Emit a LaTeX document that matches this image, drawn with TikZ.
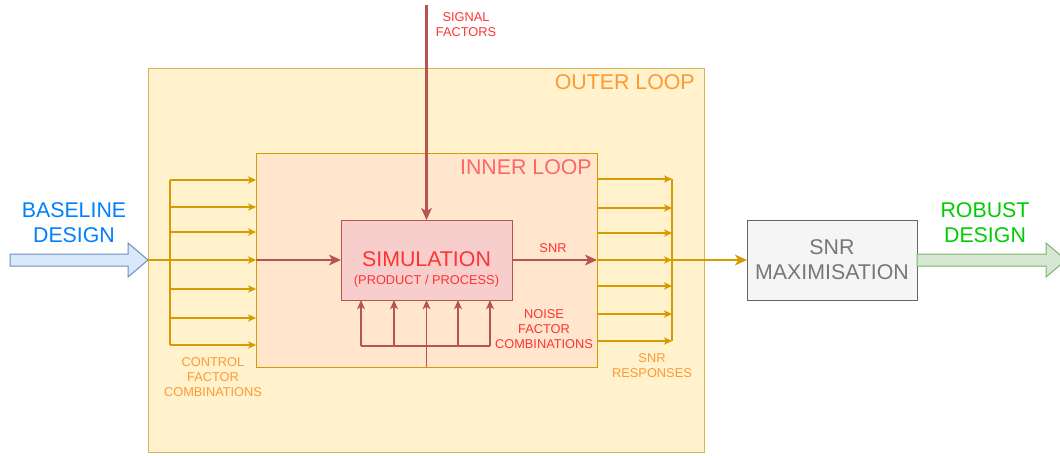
\documentclass[tikz,border=0pt]{standalone}
\usepackage{fontspec}
\setmainfont{Liberation Sans}
\usepackage{xcolor}
\usepackage{tikz}
\usetikzlibrary{positioning}
\usetikzlibrary{arrows.meta}

\definecolor{outerfill}{HTML}{FFF2CC}
\definecolor{outerline}{HTML}{D6B656}
\definecolor{innerfill}{HTML}{FFE6CC}
\definecolor{fanline}{HTML}{D79B00}
\definecolor{simfill}{HTML}{F8CECC}
\definecolor{simline}{HTML}{B85450}
\definecolor{maxfill}{HTML}{F5F5F5}
\definecolor{maxline}{HTML}{666666}
\definecolor{maxtext}{HTML}{777777}
\definecolor{inblue}{HTML}{DAE8FC}
\definecolor{inblueline}{HTML}{6C8EBF}
\definecolor{outgreen}{HTML}{D5E8D4}
\definecolor{outgreenline}{HTML}{82B366}
\definecolor{txtorange}{HTML}{FF9933}
\definecolor{txtred}{HTML}{FF3333}
\definecolor{txtpink}{HTML}{FF6666}
\definecolor{txtblue}{HTML}{007FFF}
\definecolor{txtgreen}{HTML}{00CC00}

\begin{document}
\begin{tikzpicture}[x=0.75pt, y=-0.75pt,
		box/.style={rectangle, inner sep=0pt, outer sep=0pt, line width=0.75pt},
		bigtxt/.style={font=\fontsize{16}{18.75}\selectfont, align=center},
		smalltxt/.style={font=\fontsize{9.6}{11.25}\selectfont, align=center},
		fan/.style={draw=fanline, line width=0.8pt, -{Stealth[length=6pt, width=5.5pt, inset=1.5pt]}},
		fanline/.style={draw=fanline, line width=0.8pt},
		feed/.style={draw=simline, line width=1.6pt, -{Stealth[length=9pt, width=8pt, inset=2.5pt]}},
		noise/.style={draw=simline, line width=0.8pt, -{Stealth[length=7pt, width=6pt, inset=2pt]}}]
			\clip (0,0) rectangle (1060,455);

			% Loop boxes
			\node[box, fill=outerfill, draw=outerline, minimum width=417pt, minimum height=288pt] (outer) at (426,260) {};
			\node[box, fill=innerfill, draw=fanline, minimum width=255.75pt, minimum height=160.5pt] (inner) at (426.5,260) {};
			\node[box, fill=simfill, draw=simline, minimum width=128.25pt, minimum height=60pt] (sim) at (426.5,260) {};
			\node[box, fill=maxfill, draw=maxline, text=maxtext, bigtxt, minimum width=127.5pt, minimum height=60pt] (snrmax) at (832,260) {SNR\\MAXIMISATION};

			% Box titles
			\node[bigtxt, text=txtorange, anchor=east, inner sep=0pt] (outertitle) at (695,82) {OUTER LOOP};
			\node[bigtxt, text=txtpink, anchor=east, inner sep=0pt] (innertitle) at (592,167) {INNER LOOP};
			\node[bigtxt, text=txtred] (simtitle) at (426.5,259) {SIMULATION};
			\node[smalltxt, text=txtred] (simsub) at (426.5,281) {(PRODUCT / PROCESS)};

			% Block arrows in and out
			\filldraw[fill=inblue, draw=inblueline, line width=0.75pt] (outer.west) -- ++(-20,-17) -- ++(0,11) -- ++(-118,0)
				-- ++(0,12) -- ++(118,0) -- ++(0,11) -- cycle;
			\filldraw[fill=outgreen, draw=outgreenline, line width=0.75pt] (snrmax.east) ++(0,-6) -- ++(129,0) -- ++(0,-11)
				-- ++(20,17) -- ++(-20,17) -- ++(0,-11) -- ++(-129,0) -- cycle;
			\node[bigtxt, text=txtblue] (baseline) at (74,223) {BASELINE\\DESIGN};
			\node[bigtxt, text=txtgreen] (robust) at (985,223) {ROBUST\\DESIGN};

			% Control factor combinations
			\coordinate (ctop) at (170,180);
			\coordinate (cbot) at (170,345);
			\draw[fanline] (ctop) -- (cbot);
			\foreach \y [count=\i] in {180,207,232,289,318,345} {
				\coordinate (c\i) at (170,\y);
				\draw[fan] (c\i) -- (c\i -| inner.west);
			}
			\draw[fan] (outer.west) -- (inner.west);
			\draw[feed] (inner.west) -- (sim.west);
			\node[smalltxt, text=txtorange] (ctrllbl) at (213,377) {CONTROL\\FACTOR\\COMBINATIONS};

			% Signal factors
			\coordinate (sig) at (sim.north |- 0,5);
			\draw[feed] (sig) -- (sim.north);
			\node[smalltxt, text=txtred] (siglbl) at (466,25) {SIGNAL\\FACTORS};

			% Noise factor combinations
			\coordinate (nl) at (361,346);
			\coordinate (nr) at (490,346);
			\draw[draw=simline, line width=0.8pt] (nl) -- (nr);
			\draw[noise] (inner.south) -- (sim.south);
			\foreach \x [count=\i] in {361,394,458,490} {
				\coordinate (n\i) at (\x,346);
				\draw[noise] (n\i) -- (n\i |- sim.south);
			}
			\node[smalltxt, text=txtred] (noiselbl) at (544,329) {NOISE\\FACTOR\\COMBINATIONS};

			% SNR responses
			\draw[feed] (sim.east) -- (inner.east);
			\node[smalltxt, text=txtred] (snrlbl) at (553,248) {SNR};
			\coordinate (rtop) at (672,179);
			\coordinate (rbot) at (672,341);
			\draw[fanline] (rtop) -- (rbot);
			\foreach \y [count=\i] in {179,208,233,260,286,314,341} {
				\coordinate (r\i) at (672,\y);
				\draw[fan] (r\i -| inner.east) -- (r\i);
			}
			\draw[draw=fanline, line width=1.6pt, -{Stealth[length=9pt, width=8pt, inset=2.5pt]}] (r4) -- (snrmax.west);
			\node[smalltxt, text=txtorange] (resplbl) at (652,366) {SNR\\RESPONSES};

		\end{tikzpicture}
\end{document}
